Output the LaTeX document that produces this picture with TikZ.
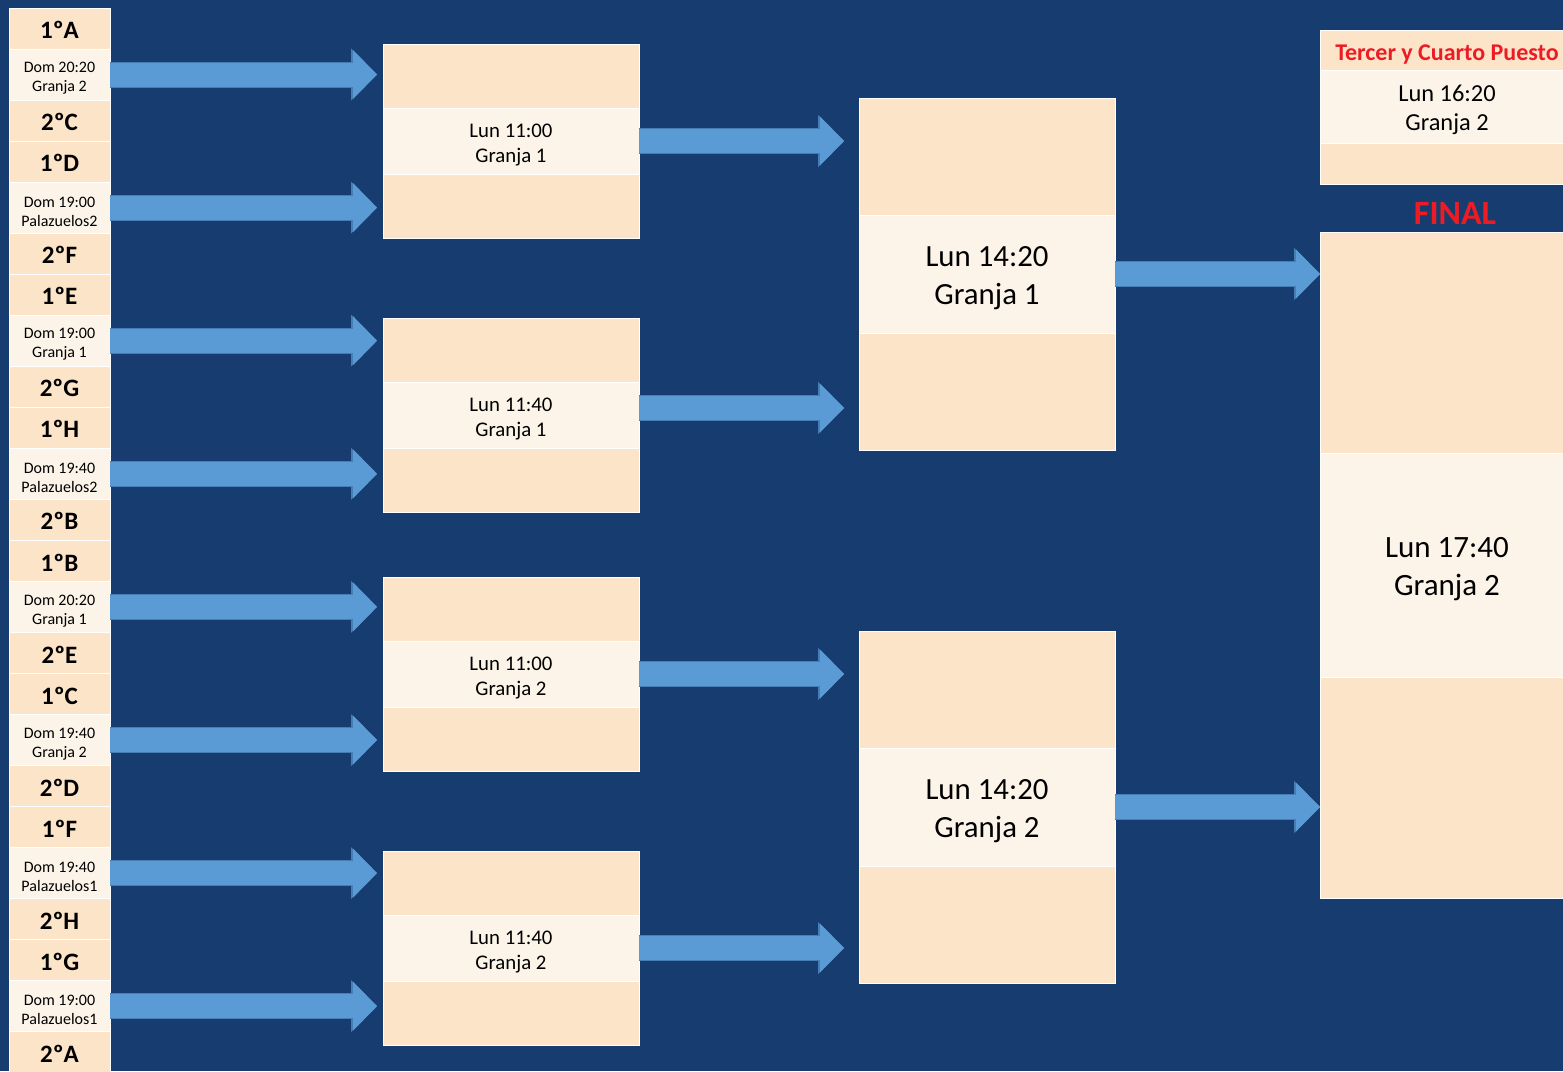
\documentclass[tikz,border=0pt]{standalone}
\usepackage{fontspec}
\setmainfont{Carlito}
\usetikzlibrary{positioning,arrows.meta}

\definecolor{bgblue}{RGB}{23,61,112}
\definecolor{peach}{RGB}{252,228,200}
\definecolor{cream}{RGB}{253,244,233}
\definecolor{arrowblue}{RGB}{91,155,213}
\definecolor{arrowedge}{RGB}{70,125,180}
\definecolor{titlered}{RGB}{237,28,36}

% push the text of a box down a little
\newcommand\padtop[1]{\rule{0pt}{\dimexpr\fontcharht\font`L+#1\relax}}

\begin{document}
\begin{tikzpicture}[x=0.5pt, y=-0.5pt,
  cell/.style={draw=white, line width=0.5pt, inner sep=0pt, outer sep=0pt,
    minimum width=50.5pt, align=center},
  team/.style={cell, fill=peach, minimum height=20.5pt,
    font=\fontsize{12.5}{12.5}\selectfont\bfseries},
  sched/.style={cell, fill=cream, minimum height=25.5pt,
    font=\fontsize{8}{9.5}\selectfont},
  band/.style={draw=white, line width=0.5pt, inner sep=0pt, outer sep=0pt,
    fill=peach, align=center},
  slot/.style={band, fill=cream},
  fat/.style={preaction={draw=arrowedge, line width=13pt,
      -{Triangle[width=26pt, length=13pt, line width=0pt]}},
    draw=arrowblue, line width=12pt,
    -{Triangle[width=24.5pt, length=12pt, line width=0pt]}}]

% Background
\clip (0,0) rectangle (1563,1071);
\fill [bgblue] (0,0) rectangle (1563,1071);

% Left column: the eight first matches
\foreach \g/\ta/\da/\db/\tb in {
  0/1ºA/Dom 20:20/Granja 2/2ºC,
  1/1ºD/Dom 19:00/Palazuelos2/2ºF,
  2/1ºE/Dom 19:00/Granja 1/2ºG,
  3/1ºH/Dom 19:40/Palazuelos2/2ºB,
  4/1ºB/Dom 20:20/Granja 1/2ºE,
  5/1ºC/Dom 19:40/Granja 2/2ºD,
  6/1ºF/Dom 19:40/Palazuelos1/2ºH,
  7/1ºG/Dom 19:00/Palazuelos1/2ºA} {
  \pgfmathsetmacro\yc{8 + 133.1*\g + 66.5}
  \node [sched] (s\g) at (59.5,\yc) {\padtop{4pt}\da\\\db};
  \node [team, above=0pt of s\g] (s\g-a) {\padtop{2pt}\ta};
  \node [team, below=0pt of s\g] (s\g-b) {\padtop{2pt}\tb};
}

% Quarter finals
\foreach \i/\y/\hora/\campo in {1/141/11:00/1, 2/415/11:40/1, 3/674/11:00/2, 4/948/11:40/2} {
  \node [slot, minimum width=128pt, minimum height=33pt,
    font=\fontsize{10.4}{12.5}\selectfont] (c\i) at (511,\y) {\padtop{4pt}Lun \hora\\Granja \campo};
  \node [band, minimum width=128pt, minimum height=32pt, above=0pt of c\i] (c\i-top) {};
  \node [band, minimum width=128pt, minimum height=32pt, below=0pt of c\i] (c\i-bot) {};
}

% Semi finals
\foreach \i/\y/\campo in {1/274/1, 2/807/2} {
  \node [slot, minimum width=128pt, minimum height=59pt,
    font=\fontsize{15.4}{19}\selectfont] (sf\i) at (987,\y) {\padtop{4pt}Lun 14:20\\Granja \campo};
  \node [band, minimum width=128pt, minimum height=58.5pt, above=0pt of sf\i] (sf\i-top) {};
  \node [band, minimum width=128pt, minimum height=58.5pt, below=0pt of sf\i] (sf\i-bot) {};
}

% Third place and final
\node [band, minimum width=127pt, minimum height=20pt, text=titlered,
  font=\fontsize{12}{12}\selectfont\bfseries] (tp-head) at (1447,50) {\padtop{5pt}Tercer y Cuarto Puesto};
\node [slot, minimum width=127pt, minimum height=36.5pt, below=0pt of tp-head,
  font=\fontsize{12.2}{14.5}\selectfont] (tp) {\padtop{4pt}Lun 16:20\\Granja 2};
\node [band, minimum width=127pt, minimum height=20.5pt, below=0pt of tp] (tp-bot) {};

\node [text=titlered, font=\fontsize{17}{17}\selectfont\bfseries] (fin-lab) at (1455,213) {FINAL};
\node [slot, minimum width=127pt, minimum height=112pt,
  font=\fontsize{15.5}{19}\selectfont] (fin) at (1447,565) {\padtop{4pt}Lun 17:40\\Granja 2};
\node [band, minimum width=127pt, minimum height=110.5pt, above=0pt of fin] (fin-top) {};
\node [band, minimum width=127pt, minimum height=110.5pt, below=0pt of fin] (fin-bot) {};

% Arrows
\foreach \g/\tgt in {0/c1-top, 1/c1-bot, 2/c2-top, 3/c2-bot, 4/c3-top, 5/c3-bot, 6/c4-top, 7/c4-bot} {
  \draw [fat, shorten >=3pt] (s\g.east) -- (s\g.east -| \tgt.west);
}
\draw [fat, shorten >=7.5pt] (c1.east) -- (c1.east -| sf1.west);
\draw [fat, shorten >=7.5pt] ([yshift=3.5pt]c2.east) -- ([yshift=3.5pt]c2.east -| sf1.west);
\draw [fat, shorten >=7.5pt] (c3.east) -- (c3.east -| sf2.west);
\draw [fat, shorten >=7.5pt] (c4.east) -- (c4.east -| sf2.west);
\draw [fat] (sf1.east) -- (sf1.east -| fin.west);
\draw [fat] (sf2.east) -- (sf2.east -| fin.west);

\end{tikzpicture}
\end{document}
